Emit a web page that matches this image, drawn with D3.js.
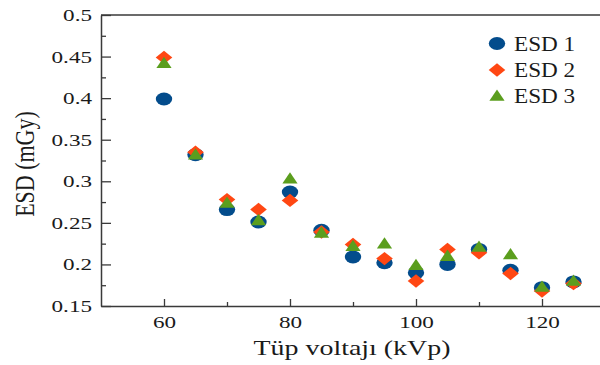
<!DOCTYPE html>
<html>
<head>
<meta charset="utf-8">
<script src="https://cdn.jsdelivr.net/npm/d3@7"></script>
<style>
html,body{margin:0;padding:0;background:#fff;overflow:hidden;}
svg{display:block;}
text{font-family:"Liberation Serif","Times New Roman",serif;fill:#1a1a1a;}
</style>
</head>
<body>
<svg id="chart" width="600" height="365"></svg>
<script>
const kvp = [60, 65, 70, 75, 80, 85, 90, 95, 100, 105, 110, 115, 120, 125];
const esd1 = [0.399, 0.332, 0.266, 0.251, 0.287, 0.241, 0.209, 0.202, 0.190, 0.200, 0.218, 0.193, 0.172, 0.179];
const esd2 = [0.449, 0.335, 0.278, 0.266, 0.277, 0.239, 0.224, 0.207, 0.180, 0.218, 0.214, 0.189, 0.168, 0.177];
const esd3 = [0.442, 0.332, 0.274, 0.253, 0.303, 0.238, 0.222, 0.225, 0.199, 0.210, 0.221, 0.212, 0.173, 0.180];
const seriesNames = ["ESD 1", "ESD 2", "ESD 3"];
const seriesColors = ["#034c8c", "#ff4713", "#5b9e1e"];
const xMajorTicks = [60, 80, 100, 120];
const xMinorTicks = [70, 90, 110];
const yMajorTicks = [0.15, 0.2, 0.25, 0.3, 0.35, 0.4, 0.45, 0.5];
const yMinorTicks = [0.175, 0.225, 0.275, 0.325, 0.375, 0.425, 0.475];

const L = 101, T = 15, B = 306, R = 605;
const svg = d3.select("#chart");
const x = d3.scaleLinear().domain([50, 130]).range([L, R]);
const y = d3.scaleLinear().domain([0.15, 0.5]).range([B, T]);
const axisColor = "#3a3a3a";
const sxTick = 1.36;

// top frame line
svg.append("line").attr("x1", L).attr("x2", R).attr("y1", T).attr("y2", T)
  .attr("stroke", axisColor).attr("stroke-width", 1.5);

// Y axis
const gyMinor = svg.append("g").attr("transform", `translate(${L},0)`)
  .call(d3.axisLeft(y).tickValues(yMinorTicks).tickSize(-5).tickFormat(""));
const gy = svg.append("g").attr("transform", `translate(${L},0)`)
  .call(d3.axisLeft(y).tickValues(yMajorTicks).tickSizeInner(-10).tickSizeOuter(0).tickPadding(9)
    .tickFormat(d => String(+d.toFixed(2))));
[gyMinor, gy].forEach(g => {
  g.select(".domain").attr("stroke", axisColor).attr("stroke-width", 1.5);
  g.selectAll(".tick line").attr("stroke", axisColor).attr("stroke-width", 1.3);
});
gyMinor.select(".domain").remove();
gy.selectAll(".tick text").attr("font-size", 17).attr("fill", "#1a1a1a")
  .attr("font-family", "Liberation Serif, serif")
  .attr("x", -9 / sxTick).attr("transform", `scale(${sxTick},1)`);

// X axis
const gxMinor = svg.append("g").attr("transform", `translate(0,${B})`)
  .call(d3.axisBottom(x).tickValues(xMinorTicks).tickSize(-4).tickFormat(""));
const gx = svg.append("g").attr("transform", `translate(0,${B})`)
  .call(d3.axisBottom(x).tickValues(xMajorTicks).tickSizeInner(-7).tickSizeOuter(0).tickPadding(10)
    .tickFormat(d3.format("d")));
[gxMinor, gx].forEach(g => {
  g.select(".domain").attr("stroke", axisColor).attr("stroke-width", 1.5);
  g.selectAll(".tick line").attr("stroke", axisColor).attr("stroke-width", 1.3);
});
gxMinor.select(".domain").remove();
gx.selectAll(".tick text").attr("font-size", 17).attr("fill", "#1a1a1a")
  .attr("font-family", "Liberation Serif, serif")
  .attr("transform", `scale(${sxTick},1)`);

// Axis titles
svg.append("text").attr("font-size", 22).attr("text-anchor", "middle")
  .attr("transform", `translate(352,355) scale(1.27,1)`).text("Tüp voltajı (kVp)");
svg.append("text").attr("font-size", 22).attr("text-anchor", "middle")
  .attr("transform", `translate(34,164) scale(1.2,1) rotate(-90)`).text("ESD (mGy)");

// markers
function drawMarker(g, type, cx, cy, color) {
  if (type === 0) {
    g.append("ellipse").attr("cx", cx).attr("cy", cy).attr("rx", 8.2).attr("ry", 6.5).attr("fill", color);
  } else if (type === 1) {
    g.append("path").attr("d", `M${cx},${cy - 6.7}L${cx + 8.3},${cy}L${cx},${cy + 6.7}L${cx - 8.3},${cy}Z`).attr("fill", color);
  } else {
    g.append("path").attr("d", `M${cx},${cy - 6.5}L${cx + 7.6},${cy + 4.8}L${cx - 7.6},${cy + 4.8}Z`).attr("fill", color);
  }
}
const allSeries = [esd1, esd2, esd3];
const pts = svg.append("g");
allSeries.forEach((vals, si) => {
  vals.forEach((v, i) => drawMarker(pts, si, x(kvp[i]), y(v), seriesColors[si]));
});

// Legend
const leg = svg.append("g");
const legY = [43.5, 70, 96];
seriesNames.forEach((n, i) => {
  drawMarker(leg, i, 497, legY[i], seriesColors[i]);
  leg.append("text").attr("font-size", 20)
    .attr("transform", `translate(514,${legY[i] + 7}) scale(1.16,1)`).text(n);
});
</script>
</body>
</html>
